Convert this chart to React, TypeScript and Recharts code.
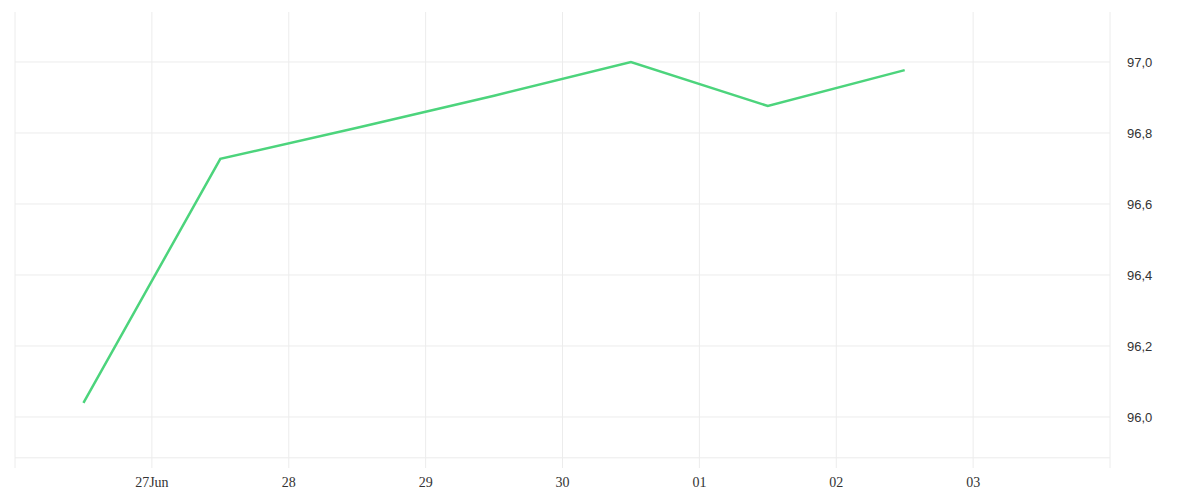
import { CartesianGrid, Line, LineChart, XAxis, YAxis } from "recharts";

// day offsets from 1 Jun (31 = 01 Jul)
const days = [26.5, 27.5, 28.5, 29.5, 30.5, 31.5, 32.5];
const values = [96.04, 96.727, 96.815, 96.905, 97.0, 96.876, 96.977];

const xTicks = [26, 27, 28, 29, 30, 31, 32, 33, 34];
const xTickLabels = ["", "27Jun", "28", "29", "30", "01", "02", "03", ""];

const yTicks = [95.885, 96.0, 96.2, 96.4, 96.6, 96.8, 97.0];

const data = days.map((d, i) => ({ day: d, value: values[i] }));

const fmtX = (v: number) => {
  const i = xTicks.indexOf(v);
  return i >= 0 ? xTickLabels[i] : "";
};

const fmtY = (v: number) => (v < 96 ? "" : v.toFixed(1).replace(".", ","));

export default function App() {
  return (
    <div style={{ position: "absolute", left: 0, top: 0, width: 1200, height: 500, background: "#fff" }}>
      <LineChart
        width={1200}
        height={500}
        data={data}
        margin={{ top: 12, right: 0, left: 15, bottom: 0 }}
      >
        <CartesianGrid stroke="#ececec" strokeWidth={1} syncWithTicks />
        <XAxis
          dataKey="day"
          type="number"
          domain={[26, 34]}
          ticks={xTicks}
          tickFormatter={fmtX}
          axisLine={false}
          tickLine={false}
          tickSize={0}
          tickMargin={9}
          height={32}
          interval={0}
          tick={{ fill: "#333", fontSize: 14, fontFamily: "Liberation Serif" }}
        />
        <YAxis
          orientation="right"
          type="number"
          domain={[95.8563, 97.1408]}
          ticks={yTicks}
          tickFormatter={fmtY}
          axisLine={false}
          tickLine={false}
          tickSize={0}
          tickMargin={17}
          width={90}
          interval={0}
          tick={{ fill: "#333", fontSize: 13, fontFamily: "Liberation Sans" }}
        />
        <Line
          type="linear"
          dataKey="value"
          stroke="#4cd47c"
          strokeWidth={2.5}
          dot={false}
          activeDot={false}
          isAnimationActive={false}
        />
      </LineChart>
    </div>
  );
}
